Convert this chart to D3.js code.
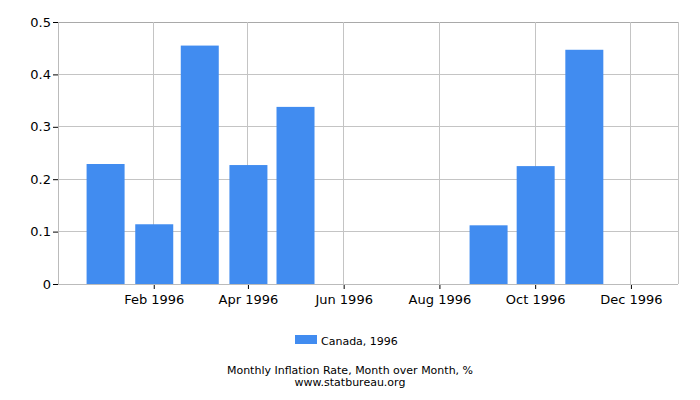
<!DOCTYPE html>
<html>
<head>
<meta charset="utf-8">
<script src="https://cdn.jsdelivr.net/npm/d3@7"></script>
<style>
  body { margin: 0; background: #fff; }
  text { font-family: "DejaVu Sans", sans-serif; fill: #000; }
</style>
</head>
<body>
<div id="chart"></div>
<script>
// data
const months = ["1996-01", "1996-02", "1996-03", "1996-04", "1996-05", "1996-06",
                "1996-07", "1996-08", "1996-09", "1996-10", "1996-11", "1996-12"];
const values = [0.229, 0.114, 0.455, 0.227, 0.338, 0, 0, 0, 0.112, 0.225, 0.447, 0];
const yTicks = [0, 0.1, 0.2, 0.3, 0.4, 0.5];
const xTickMonths = ["1996-02", "1996-04", "1996-06", "1996-08", "1996-10", "1996-12"];
const seriesName = "Canada, 1996";

const W = 700, H = 400;
const margin = { top: 22, right: 22, bottom: 116, left: 58 };
const width = W - margin.left - margin.right;
const height = H - margin.top - margin.bottom;

const parse = d3.timeParse("%Y-%m");
const data = months.map((m, i) => ({ date: parse(m), value: values[i] }));

const svg = d3.select("#chart").append("svg")
    .attr("width", W)
    .attr("height", H);

const g = svg.append("g")
    .attr("transform", `translate(${margin.left},${margin.top})`);

const x = d3.scaleTime()
    .domain([new Date(1995, 11, 2), new Date(1996, 11, 31)])
    .range([0, width]);

const y = d3.scaleLinear()
    .domain([0, 0.5])
    .range([height, 0]);

const barW = 38;

// grid
g.selectAll("line.hgrid")
    .data(yTicks)
    .enter().append("line")
    .attr("class", "hgrid")
    .attr("x1", 0).attr("x2", width)
    .attr("y1", d => y(d)).attr("y2", d => y(d))
    .style("stroke", d => d === 0.5 ? "#a9a9a9" : "#c4c4c4")
    .style("stroke-width", 1)
    .attr("shape-rendering", "crispEdges");

g.selectAll("line.vgrid")
    .data(xTickMonths.map(parse))
    .enter().append("line")
    .attr("class", "vgrid")
    .attr("x1", d => x(d)).attr("x2", d => x(d))
    .attr("y1", 0).attr("y2", height)
    .style("stroke", "#c4c4c4")
    .attr("shape-rendering", "crispEdges");

// right border
g.append("line")
    .attr("x1", width).attr("x2", width)
    .attr("y1", 0).attr("y2", height)
    .style("stroke", "#c4c4c4")
    .attr("shape-rendering", "crispEdges");

// bars
g.selectAll("rect.bar")
    .data(data)
    .enter().append("rect")
    .attr("class", "bar")
    .attr("x", d => x(d.date) - barW / 2 + 0.5)
    .attr("width", barW)
    .attr("y", d => y(d.value))
    .attr("height", d => height - y(d.value))
    .style("fill", "#418cf0");

// axes
const yAxis = g.append("g")
    .call(d3.axisLeft(y).tickValues(yTicks).tickSize(5).tickPadding(2)
        .tickFormat(d => d === 0 ? "0" : d3.format(".1f")(d)));
yAxis.select(".domain").style("stroke", "#bbb");
yAxis.selectAll(".tick line").style("stroke", "#000");
yAxis.selectAll("text").style("font-size", "13px").style("font-family", "DejaVu Sans");

const xAxis = g.append("g")
    .attr("transform", `translate(0,${height})`)
    .call(d3.axisBottom(x).tickValues(xTickMonths.map(parse)).tickSize(5).tickPadding(6)
        .tickFormat(d3.timeFormat("%b %Y")));
xAxis.select(".domain").remove();
g.append("line")
    .attr("x1", 0).attr("x2", width)
    .attr("y1", height).attr("y2", height)
    .style("stroke", "#bbb")
    .attr("shape-rendering", "crispEdges");
xAxis.selectAll(".tick line").style("stroke", "#000");
xAxis.selectAll("text").style("font-size", "13px").style("font-family", "DejaVu Sans");

// legend
svg.append("rect")
    .attr("x", 295).attr("y", 335)
    .attr("width", 22).attr("height", 9)
    .style("fill", "#418cf0");
svg.append("text")
    .attr("x", 321).attr("y", 345)
    .style("font-size", "11px")
    .text(seriesName);

// captions
svg.append("text")
    .attr("x", 350).attr("y", 374)
    .attr("text-anchor", "middle")
    .style("font-size", "11px")
    .text("Monthly Inflation Rate, Month over Month, %");
svg.append("text")
    .attr("x", 350).attr("y", 386)
    .attr("text-anchor", "middle")
    .style("font-size", "11px")
    .text("www.statbureau.org");
</script>
</body>
</html>
